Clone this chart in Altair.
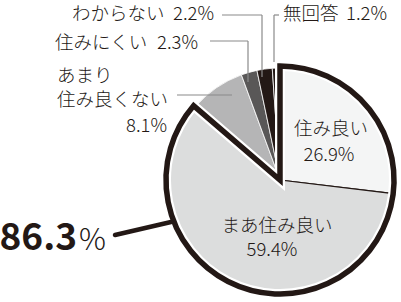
import math
import altair as alt
import pandas as pd

# ---- data ----
categories = ["住み良い", "まあ住み良い", "あまり住み良くない", "住みにくい", "わからない", "無回答"]
values = [26.9, 59.4, 8.1, 2.3, 2.2, 1.2]
colors = ["#f4f5f5", "#dcdddd", "#b5b5b6", "#595757", "#231815", "#231815"]
highlight_count = 2  # first two categories form the highlighted group

INK = "#231815"
LEAD = "#8a8a8a"
FONT = "Noto Sans CJK JP"

starts, ends = [], []
acc = 0.0
for v in values:
    starts.append(acc)
    acc += v
    ends.append(acc)

df = pd.DataFrame({"cat": categories, "value": values, "start": starts, "end": ends})
hi_total = round(sum(values[:highlight_count]), 1)
outline_df = pd.DataFrame({"cat": ["group"], "start": [0.0], "end": [hi_total]})

theta_scale = alt.Scale(domain=[0, 100], range=[0, 2 * math.pi])
color_scale = alt.Scale(domain=categories, range=colors)
CX, CY = 280, 180


def pct(v):
    return f"{v}%"


def arc_layer(data, **mark):
    return alt.Chart(data).mark_arc(**mark).encode(
        theta=alt.Theta("start:Q", scale=theta_scale),
        theta2="end:Q",
        x=alt.value(CX),
        y=alt.value(CY),
    )


small = arc_layer(df.iloc[highlight_count:], outerRadius=112, stroke="white", strokeWidth=0.8).encode(
    color=alt.Color("cat:N", scale=color_scale, legend=None)
)
big = arc_layer(df.iloc[:highlight_count], outerRadius=114, stroke=INK, strokeWidth=1.2).encode(
    color=alt.Color("cat:N", scale=color_scale, legend=None)
)
outline_white = arc_layer(outline_df, outerRadius=114, fill="transparent", stroke="white", strokeWidth=10)
outline_black = arc_layer(outline_df, outerRadius=114, fill="transparent", stroke=INK, strokeWidth=5.5)


def label(text, x, y, align="center", size=18.5, weight=300, baseline="middle", font=FONT):
    return alt.Chart(pd.DataFrame({"t": [text]})).mark_text(
        align=align, baseline=baseline, fontSize=size, fontWeight=weight, font=font, color=INK
    ).encode(x=alt.value(x), y=alt.value(y), text="t:N")


def rule(x1, y1, x2, y2, color=LEAD, width=1.2, cap="butt"):
    return alt.Chart(pd.DataFrame({"a": [0]})).mark_rule(
        color=color, strokeWidth=width, strokeCap=cap
    ).encode(x=alt.value(x1), y=alt.value(y1), x2=alt.value(x2), y2=alt.value(y2))


layers = [
    small,
    big,
    outline_white,
    outline_black,
    # leader lines
    rule(222, 15, 262, 15), rule(262, 15, 262, 77),
    rule(279, 15, 274, 15), rule(274, 15, 274, 62),
    rule(210, 41, 248, 41), rule(248, 41, 248, 82),
    rule(177, 95, 232, 95),
    rule(115, 235, 171, 222, color=INK, width=4.5, cap="round"),
    # outer labels
    label(categories[4], 72, 14, align="left"),
    label(pct(values[4]), 214, 14, align="right"),
    label(categories[5], 283, 14, align="left"),
    label(pct(values[5]), 387, 14, align="right"),
    label(categories[3], 55, 43, align="left"),
    label(pct(values[3]), 198, 43, align="right"),
    label(categories[2][:3], 57, 76, align="left"),
    label(categories[2][3:], 57, 100, align="left"),
    label(pct(values[2]), 167, 126, align="right"),
    # inner labels
    label(categories[0], 331, 129),
    label(pct(values[0]), 329, 155),
    label(categories[1], 277, 226),
    label(pct(values[1]), 272, 250),
    # highlighted total
    label(f"{hi_total}", 77, 250, align="right", size=37, weight="bold", baseline="alphabetic"),
    label("%", 79, 250, align="left", size=30, weight=300, baseline="alphabetic"),
]

chart = alt.layer(*layers).properties(
    width=401,
    height=302,
    autosize=alt.AutoSizeParams(type="none"),
    padding=0,
    background="white",
).configure_view(stroke=None)

chart.save("out.html", embed_options={"renderer": "svg", "actions": False})
